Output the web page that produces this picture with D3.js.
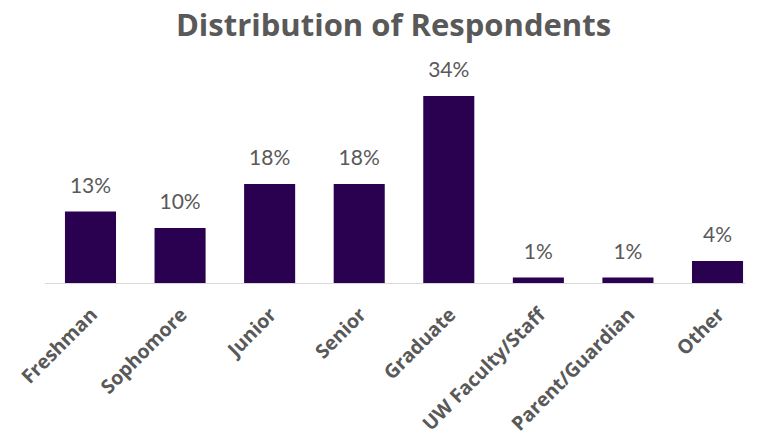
<!DOCTYPE html>
<html>
<head>
<meta charset="utf-8">
<script src="https://cdn.jsdelivr.net/npm/d3@7/dist/d3.min.js"></script>
<style>
  html, body { margin: 0; padding: 0; background: #fff; }
  svg { display: block; }
</style>
</head>
<body>
<svg id="chart" width="767" height="436"></svg>
<script>
// Share of survey respondents by group (percent)
const categories = ["Freshman", "Sophomore", "Junior", "Senior", "Graduate",
                    "UW Faculty/Staff", "Parent/Guardian", "Other"];
const values = [13, 10, 18, 18, 34, 1, 1, 4];
const valueLabels = ["13%", "10%", "18%", "18%", "34%", "1%", "1%", "4%"];
const titleText = "Distribution of Respondents";

const svg = d3.select("#chart");
const baseY = 283;

const x = d3.scaleBand()
  .domain(categories)
  .range([45.7, 762.3])
  .paddingInner(0.43)
  .paddingOuter(0.215);

const y = d3.scaleLinear()
  .domain([0, 40])
  .range([baseY, 63]);

const textGray = "#595959";
const barColor = "#2a0050";

// Title
svg.append("text")
  .attr("x", 393.5)
  .attr("y", 36)
  .attr("text-anchor", "middle")
  .attr("font-family", "'Open Sans', sans-serif")
  .attr("font-weight", 700)
  .attr("font-size", 31)
  .attr("fill", textGray)
  .text(titleText);

const data = categories.map((c, i) => ({ c, v: values[i], label: valueLabels[i] }));

// Bars
svg.append("g")
  .selectAll("rect")
  .data(data)
  .join("rect")
  .attr("x", d => x(d.c))
  .attr("y", d => y(d.v))
  .attr("width", x.bandwidth())
  .attr("height", d => baseY - y(d.v))
  .attr("fill", barColor);

// Category axis line
svg.append("line")
  .attr("x1", 45).attr("x2", 745)
  .attr("y1", baseY + 0.5).attr("y2", baseY + 0.5)
  .attr("stroke", "#d9d9d9")
  .attr("stroke-width", 1);

// Value labels above bars
svg.append("g")
  .selectAll("text")
  .data(data)
  .join("text")
  .attr("x", d => x(d.c) + x.bandwidth() / 2)
  .attr("y", d => y(d.v) - 19)
  .attr("text-anchor", "middle")
  .attr("font-family", "Lato, 'Open Sans', sans-serif")
  .attr("font-size", 21)
  .attr("fill", textGray)
  .text(d => d.label);

// Rotated category labels
svg.append("g")
  .selectAll("text")
  .data(data)
  .join("text")
  .attr("transform", d => `translate(${x(d.c) + x.bandwidth() / 2 + 8},${baseY + 33}) rotate(-45)`)
  .attr("text-anchor", "end")
  .attr("font-family", "'Open Sans', sans-serif")
  .attr("font-weight", 700)
  .attr("font-size", 19.5)
  .attr("fill", textGray)
  .text(d => d.c);
</script>
</body>
</html>
